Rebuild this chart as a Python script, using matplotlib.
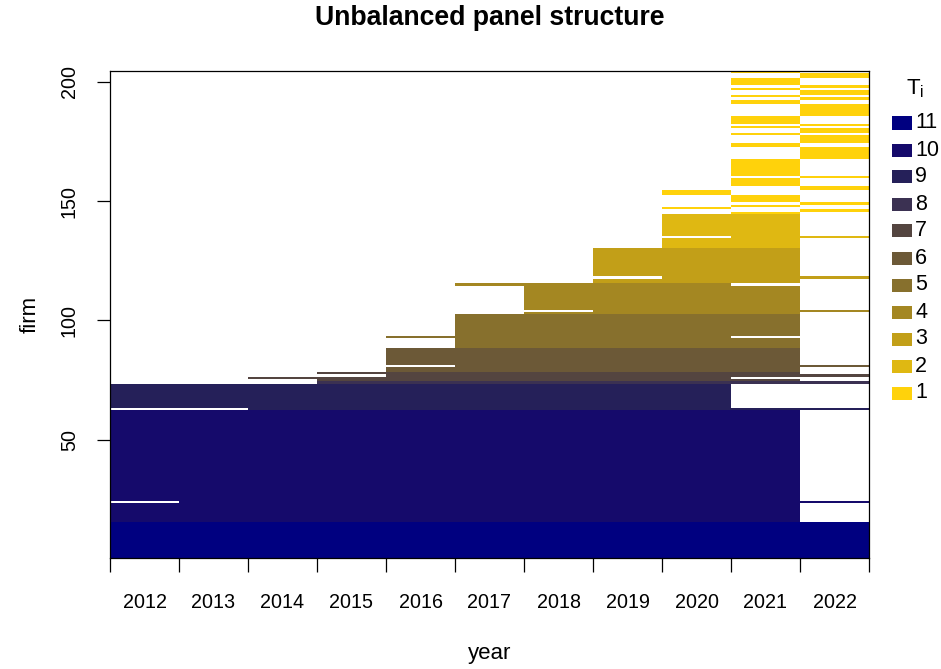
import matplotlib.pyplot as plt
import numpy as np
from matplotlib.colors import ListedColormap, BoundaryNorm
from matplotlib.patches import Rectangle

plt.rcParams['font.family'] = ['Liberation Sans', 'DejaVu Sans']
plt.rcParams['mathtext.fontset'] = 'custom'
plt.rcParams['mathtext.rm'] = 'Liberation Sans'
plt.rcParams['mathtext.it'] = 'Liberation Sans'

years = list(range(2012, 2023))
n_firms = 204

# bulk spells: firms block_first..block_last observed from block_start to block_end
block_first = [1, 16, 63, 74, 79, 89, 103, 116, 131]
block_last = [15, 62, 73, 78, 88, 102, 115, 130, 144]
block_start = [2012, 2012, 2012, 2015, 2016, 2017, 2018, 2019, 2020]
block_end = [2022, 2021, 2020, 2021, 2021, 2021, 2021, 2021, 2021]

# single firms whose spell differs from their block
odd_firm = [24, 63, 74, 76, 77, 81, 93, 104, 115, 118, 135]
odd_start = [2013, 2014, 2015, 2014, 2016, 2017, 2016, 2019, 2017, 2020, 2021]
odd_end = [2022, 2022, 2022, 2020, 2022, 2022, 2020, 2022, 2020, 2022, 2022]

# firms observed in a single year only
once_2020 = [147, 153, 154]
once_2021 = [145, 148, 150, 151, 152, 157, 158, 159, 161, 162, 163, 164, 165,
             166, 167, 173, 174, 178, 181, 183, 184, 185, 191, 192, 194, 197,
             199, 200, 201, 204]
once_2022 = [146, 149, 155, 156, 160, 168, 169, 170, 171, 172, 175, 176, 177,
             179, 180, 182, 186, 187, 188, 189, 190, 193, 195, 196, 198, 202, 203]

# colours for T_i = 1 .. 11
t_levels = list(range(1, 12))
t_colors = ['#FFD20B', '#DFB812', '#C29F18', '#A48722', '#87702D', '#6C5937',
            '#544540', '#3B3152', '#252059', '#150A6B', '#000080']

# build presence matrix (firm x year)
y0 = years[0]
present = np.zeros((n_firms, len(years)), dtype=bool)
for f0, f1, s, e in zip(block_first, block_last, block_start, block_end):
    present[f0 - 1:f1, s - y0:e - y0 + 1] = True
for f, s, e in zip(odd_firm, odd_start, odd_end):
    present[f - 1, :] = False
    present[f - 1, s - y0:e - y0 + 1] = True
for yr, firms in ((2020, once_2020), (2021, once_2021), (2022, once_2022)):
    for f in firms:
        present[f - 1, yr - y0] = True

T = present.sum(axis=1)
z = np.ma.masked_where(~present, np.repeat(T[:, None], len(years), axis=1))

cmap = ListedColormap(t_colors)
norm = BoundaryNorm(np.arange(0.5, 12.5, 1), cmap.N)

W, H = 941, 669
fig = plt.figure(figsize=(W / 100, H / 100), dpi=100)
ax = fig.add_axes([110 / W, 1 - 558 / H, (869 - 110) / W, (558 - 71) / H])

x_edges = np.arange(years[0] - 0.5, years[-1] + 1, 1)
y_edges = np.arange(0.5, n_firms + 1, 1)
ax.pcolormesh(x_edges, y_edges, z, cmap=cmap, norm=norm, antialiased=False,
              edgecolors='none')
ax.set_xlim(x_edges[0], x_edges[-1])
ax.set_ylim(0.5, n_firms + 0.5)

# ticks on year boundaries, labels in cell centres
ax.set_xticks(x_edges)
ax.set_xticklabels([])
ax.set_xticks(years, minor=True)
ax.set_xticklabels([str(y) for y in years], minor=True)
ax.tick_params(axis='x', which='major', length=10, width=0.9, direction='out')
ax.tick_params(axis='x', which='minor', length=0, pad=25, labelsize=14.2)

ax.set_yticks([50, 100, 150, 200])
ax.tick_params(axis='y', length=9.5, width=0.9, pad=13, labelsize=14.2,
               labelrotation=90)
for lab in ax.get_yticklabels():
    lab.set_va('center')

for sp in ax.spines.values():
    sp.set_linewidth(0.9)

fig.text(489.5 / W, 1 - 18 / H, 'Unbalanced panel structure', ha='center',
         va='center', fontsize=19.2, fontweight='bold')
fig.text(489.5 / W, 1 - 654 / H, 'year', ha='center', va='center', fontsize=16)
fig.text(30 / W, 1 - 314.5 / H, 'firm', ha='center', va='center', fontsize=16,
         rotation=90)

# legend
fig.text(915 / W, 1 - 89 / H, r'$\mathrm{T_i}$', ha='center', va='center',
         fontsize=16)
for i, t in enumerate(t_levels[::-1]):
    yc = 123 + i * 27.0
    fig.patches.append(Rectangle((892 / W, 1 - (yc + 6.5) / H), 20 / W, 13 / H,
                                 transform=fig.transFigure,
                                 facecolor=t_colors[t - 1], edgecolor='none'))
    fig.text(915 / W, 1 - yc / H, str(t), ha='left', va='center', fontsize=15.5)

fig.savefig('out.png', dpi=100)
